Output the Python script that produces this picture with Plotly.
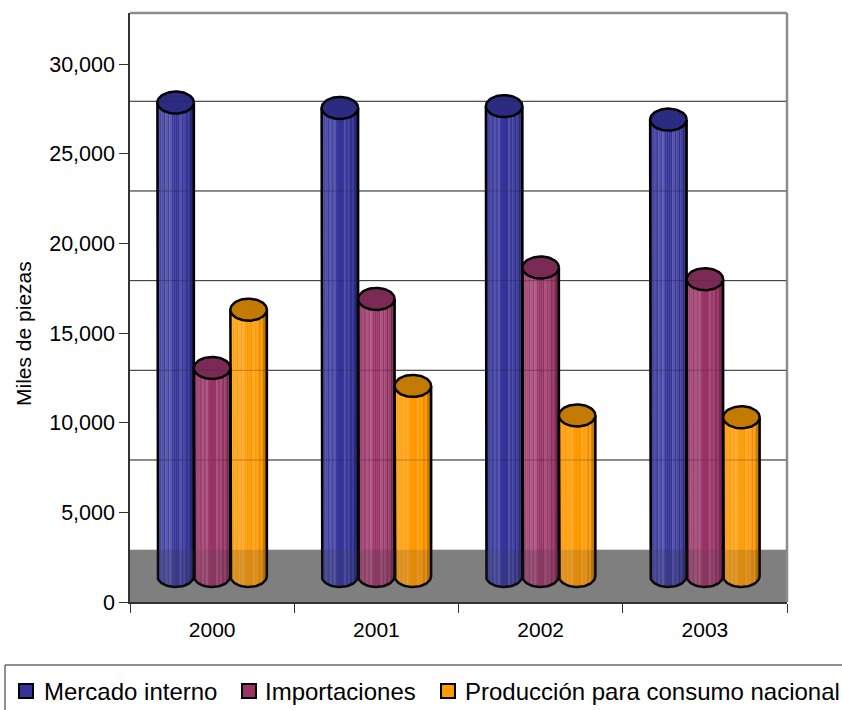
import numpy as np
import plotly.graph_objects as go

# Annual figures, thousands of pieces
years = ["2000", "2001", "2002", "2003"]
mercado_interno = [26400, 26100, 26200, 25450]
importaciones = [11600, 15450, 17200, 16550]
produccion = [14850, 10600, 8950, 8850]

series_names = ["Mercado interno", "Importaciones", "Producción para consumo nacional"]
series_values = [mercado_interno, importaciones, produccion]
body_colors = [(51, 51, 153), (153, 51, 102), (255, 153, 0)]
cap_colors = ["#2b2b82", "#7b2a56", "#c27a00"]

# Per-strip tint across a cylinder: positive towards white, negative towards black
strip_tint = [0.05, 0.09, 0.13, 0.06, 0.17, 0.08, 0.20, 0.04, 0.0,
              0.0, -0.02, 0.15, 0.02, 0.10, -0.08, 0.05, -0.20, -0.32]

PX_L, PX_R, PX_T, PX_B = 130, 787, 13, 602
Y_PER_PX = 30000 / 538
Y_MAX = (PX_B - PX_T) * Y_PER_PX
X_PER_PX = 4 / (PX_R - PX_L)

base_lift = 1450      # cylinders stand mid-way across the floor
wall_lift = 2920      # the back wall starts at the far edge of the floor
cap_ry = 11 * Y_PER_PX
bar_w = 36.5 * X_PER_PX
wall_lines = [wall_lift + 5000 * k for k in range(1, 6)]


def tint(rgb, t):
    target = 255 if t > 0 else 0
    a = abs(t)
    return "rgb({},{},{})".format(*[round(c + (target - c) * a) for c in rgb])


def px_x(p):
    return (p - PX_L) / (PX_R - PX_L)


def px_y(p):
    return (PX_B - p) / (PX_B - PX_T)


fig = go.Figure()
n_strips = len(strip_tint)
strip_w = bar_w / n_strips
theta = np.linspace(0, 2 * np.pi, 73)
lower = np.linspace(np.pi, 2 * np.pi, 37)

for s, (name, vals) in enumerate(zip(series_names, series_values)):
    xs, tops, bases, cols = [], [], [], []
    for i, v in enumerate(vals):
        cx = i + 0.5 + (s - 1) * bar_w
        for k in range(n_strips):
            u = (k + 0.5) / n_strips * 2 - 1
            drop = cap_ry * np.sqrt(1 - u * u)
            xs.append(cx + u * bar_w / 2)
            bases.append(base_lift - drop)
            tops.append(v + drop)
            cols.append(tint(body_colors[s], strip_tint[k]))
    fig.add_trace(go.Bar(x=xs, y=tops, base=bases, width=strip_w * 1.15,
                         marker=dict(color=cols, line=dict(width=0)),
                         name=name, showlegend=False, hoverinfo="skip"))

# Cylinder outlines and top caps
for s, vals in enumerate(series_values):
    for i, v in enumerate(vals):
        cx = i + 0.5 + (s - 1) * bar_w
        top = base_lift + v
        ox = np.concatenate(([cx - bar_w / 2], cx + bar_w / 2 * np.cos(lower), [cx + bar_w / 2]))
        oy = np.concatenate(([top], base_lift + cap_ry * np.sin(lower), [top]))
        fig.add_trace(go.Scatter(x=ox, y=oy, mode="lines", showlegend=False, hoverinfo="skip",
                                 line=dict(color="black", width=2.5)))
        fig.add_trace(go.Scatter(x=cx + bar_w / 2 * np.cos(theta), y=top + cap_ry * np.sin(theta),
                                 mode="lines", fill="toself", fillcolor=cap_colors[s],
                                 showlegend=False, hoverinfo="skip",
                                 line=dict(color="black", width=2.5)))

shapes = [
    # Floor and wall rules behind the cylinders
    dict(type="rect", xref="x", yref="y", x0=0, x1=4, y0=0, y1=wall_lift,
         fillcolor="#8b8b8b", line_width=0, layer="below"),
    # Floor tint seen through the cylinders
    dict(type="rect", xref="x", yref="y", x0=0, x1=4, y0=0, y1=wall_lift,
         fillcolor="rgba(70,70,70,0.16)", line_width=0, layer="above"),
    # Wall frame
    dict(type="line", xref="paper", yref="paper", x0=0, x1=1, y0=1, y1=1,
         line=dict(color="#8c8c8c", width=2.5), layer="above"),
    dict(type="line", xref="paper", yref="paper", x0=1, x1=1, y0=0, y1=1,
         line=dict(color="#8c8c8c", width=2.5), layer="above"),
    # Legend frame
    dict(type="rect", xref="paper", yref="paper", x0=px_x(5), x1=px_x(880),
         y0=px_y(730), y1=px_y(665), line=dict(color="#222222", width=1),
         fillcolor="white", layer="above"),
]
for g in wall_lines:
    shapes.append(dict(type="line", xref="x", yref="y", x0=0, x1=4, y0=g, y1=g,
                       line=dict(color="#3a3a3a", width=1), layer="below"))
    shapes.append(dict(type="line", xref="x", yref="y", x0=0, x1=4, y0=g, y1=g,
                       line=dict(color="rgba(40,40,40,0.28)", width=1), layer="above"))

legend_swatch_x = [19, 242, 441]
legend_text_x = [42, 263, 463]
annotations = [
    dict(xref="paper", yref="paper", x=px_x(24), y=px_y(334), text="Miles de piezas",
         textangle=-90, showarrow=False, xanchor="center", yanchor="middle",
         font=dict(family="Liberation Sans", size=21, color="black")),
]
for x0, tx, name, (r, g, b) in zip(legend_swatch_x, legend_text_x, series_names, body_colors):
    shapes.append(dict(type="rect", xref="paper", yref="paper", x0=px_x(x0), x1=px_x(x0 + 14),
                       y0=px_y(698), y1=px_y(684), fillcolor=f"rgb({r},{g},{b})",
                       line=dict(color="black", width=2), layer="above"))
    annotations.append(dict(xref="paper", yref="paper", x=px_x(tx), y=px_y(691), text=name,
                            showarrow=False, xanchor="left", yanchor="middle",
                            font=dict(family="Liberation Sans", size=24, color="black")))

fig.update_layout(
    width=842, height=710, autosize=False,
    margin=dict(l=PX_L, r=842 - PX_R, t=PX_T, b=710 - PX_B),
    paper_bgcolor="white", plot_bgcolor="white",
    barmode="overlay", showlegend=False,
    font=dict(family="Liberation Sans", color="black"),
    shapes=shapes, annotations=annotations,
    xaxis=dict(range=[0, 4], tickmode="array", tickvals=[0.5, 1.5, 2.5, 3.5], ticktext=years,
               ticks="", showgrid=False, zeroline=False, showline=True, linecolor="#333333",
               linewidth=1.5, tickfont=dict(size=21), ticklabelstandoff=8,
               minor=dict(tickmode="array", tickvals=[0, 1, 2, 3, 4], ticks="outside",
                          ticklen=9, tickcolor="#333333", tickwidth=1, showgrid=False)),
    yaxis=dict(range=[0, Y_MAX], tickmode="array", tickvals=list(range(0, 30001, 5000)),
               tickformat=",d", ticks="outside", ticklen=9, tickcolor="#333333",
               showgrid=False, zeroline=False, showline=True, linecolor="#333333",
               linewidth=1.5, tickfont=dict(size=21.5)),
)

fig.write_html("out.html")
